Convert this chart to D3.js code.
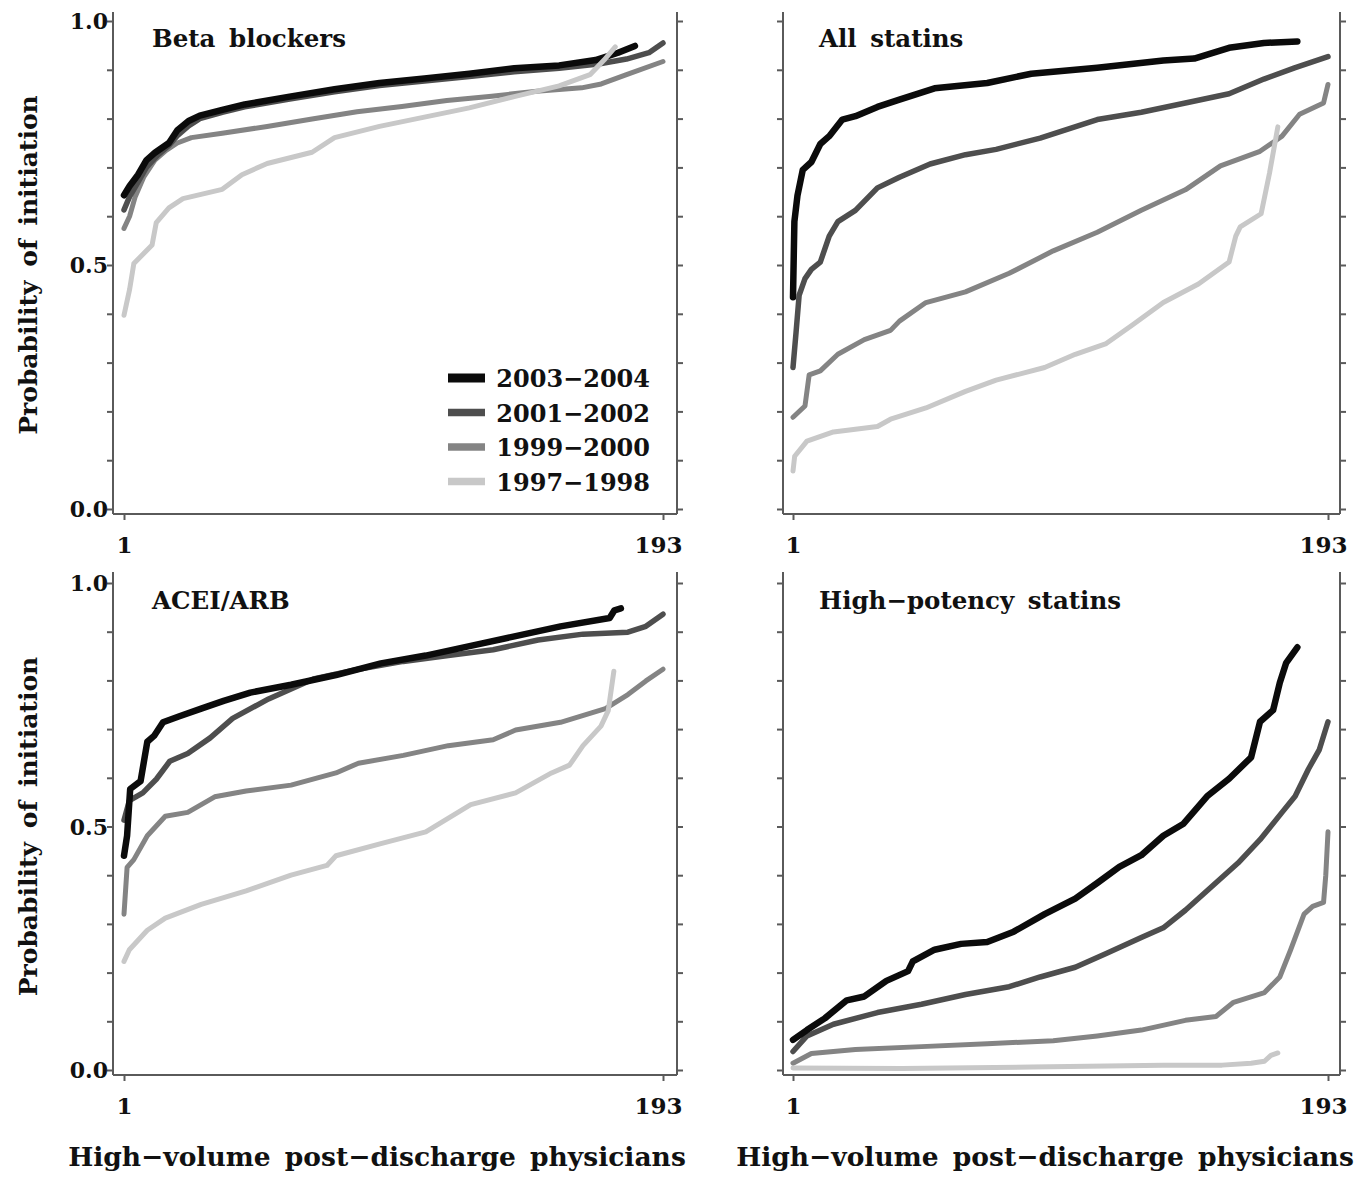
<!DOCTYPE html>
<html>
<head>
<meta charset="utf-8">
<script src="https://cdn.jsdelivr.net/npm/d3@7"></script>
<style>
  html, body { margin: 0; padding: 0; background: #fff; }
  svg text { font-family: "DejaVu Serif", serif; fill: #111; font-weight: bold; }
</style>
</head>
<body>
<svg id="chart" width="1371" height="1177"></svg>
<script>
// ---------- data (rank of physician, probability of initiation) ----------
const panelTitles = ["Beta blockers", "All statins", "ACEI/ARB", "High\u2212potency statins"];
const periods = ["2003\u22122004", "2001\u22122002", "1999\u22122000", "1997\u22121998"];
const yTickLabels = ["0.0", "0.5", "1.0"];
const yTickValues = [0, 0.5, 1];
const xTickLabels = ["1", "193"];
const xTickValues = [1, 193];
const xTitle = "High\u2212volume post\u2212discharge physicians";
const yTitle = "Probability of initiation";

const beta2003 = [[1,0.643],[3,0.662],[6,0.685],[9,0.715],[12,0.73],[17,0.75],[20,0.776],[24,0.795],[28,0.806],[36,0.818],[44,0.829],[60,0.845],[76,0.86],[92,0.873],[108,0.882],[124,0.892],[140,0.903],[156,0.909],[169,0.92],[177,0.935],[183,0.949]];
const beta2001 = [[1,0.613],[3,0.64],[6,0.67],[9,0.7],[13,0.725],[17,0.745],[20,0.765],[24,0.785],[28,0.8],[36,0.813],[44,0.824],[60,0.84],[76,0.855],[92,0.868],[108,0.877],[124,0.886],[140,0.896],[156,0.903],[170,0.912],[180,0.922],[188,0.935],[193,0.955]];
const beta1999 = [[1,0.575],[3,0.6],[5,0.64],[8,0.68],[12,0.715],[16,0.735],[20,0.75],[25,0.761],[36,0.77],[52,0.784],[68,0.799],[84,0.814],[100,0.825],[116,0.837],[132,0.846],[148,0.856],[164,0.863],[171,0.871],[180,0.89],[193,0.917]];
const beta1997 = [[1,0.397],[3,0.45],[4.5,0.503],[11,0.541],[12.5,0.587],[17,0.617],[22,0.636],[36,0.655],[43,0.685],[52,0.708],[68,0.731],[76,0.761],[92,0.784],[108,0.803],[124,0.822],[140,0.845],[156,0.867],[167,0.89],[172,0.92],[176,0.947]];

const stat2003 = [[1,0.434],[1.5,0.589],[2.6,0.642],[4.5,0.695],[7.6,0.711],[10.8,0.748],[14,0.764],[18.7,0.798],[23.4,0.805],[31.3,0.824],[39.2,0.839],[51.8,0.862],[70.7,0.873],[86.5,0.892],[110.2,0.904],[133.9,0.919],[145,0.923],[157.5,0.945],[170,0.955],[182,0.958]];
const stat2001 = [[1,0.29],[2.1,0.362],[3.2,0.438],[5.3,0.472],[7.6,0.491],[10.8,0.506],[14,0.559],[17.1,0.589],[23.4,0.612],[31.3,0.658],[39.2,0.68],[50.2,0.707],[62.9,0.726],[73.9,0.737],[89.7,0.76],[110.2,0.798],[126,0.813],[141.8,0.832],[157.5,0.851],[170,0.881],[181,0.904],[193,0.927]];
const stat1999 = [[1,0.188],[5.3,0.211],[6.8,0.275],[10.8,0.283],[17.1,0.317],[26.6,0.347],[36,0.366],[39.2,0.385],[48.7,0.423],[62.9,0.445],[78.6,0.483],[94.4,0.529],[110.2,0.567],[126,0.612],[141.8,0.654],[154.4,0.703],[168.6,0.733],[176.5,0.764],[182.8,0.809],[191.4,0.832],[193,0.87]];
const stat1997 = [[1,0.078],[1.6,0.108],[6,0.139],[15.5,0.158],[31.3,0.169],[36,0.184],[48.7,0.207],[62.9,0.241],[73.9,0.264],[91.3,0.29],[102.3,0.317],[113.4,0.339],[122.8,0.377],[133.9,0.423],[146.5,0.461],[157.5,0.506],[159.9,0.559],[161.5,0.578],[169,0.605],[172,0.688],[175,0.783]];

const ace2003 = [[1,0.44],[2.1,0.481],[3.2,0.577],[6.9,0.593],[9.3,0.674],[11.7,0.686],[14.9,0.714],[20.5,0.726],[28.5,0.742],[36.5,0.758],[46,0.775],[60.5,0.791],[76.5,0.811],[92.5,0.835],[108.5,0.851],[124.5,0.871],[140.5,0.891],[156.5,0.911],[174,0.928],[175.7,0.944],[178,0.948]];
const ace2001 = [[1,0.513],[2.9,0.553],[7.7,0.569],[12.5,0.597],[17.3,0.634],[23.7,0.65],[31.7,0.682],[39.7,0.722],[52.5,0.762],[68.5,0.803],[84.5,0.823],[100.5,0.839],[116.5,0.851],[132.5,0.863],[148.5,0.883],[164.5,0.895],[180.5,0.899],[186.9,0.911],[193,0.936]];
const ace1999 = [[1,0.32],[2.1,0.416],[4.5,0.432],[9.3,0.481],[15.7,0.521],[23.7,0.529],[33.3,0.561],[44.5,0.573],[60.5,0.585],[76.5,0.61],[84.5,0.63],[100.5,0.646],[116.5,0.666],[132.5,0.678],[140.5,0.698],[156.5,0.714],[172.5,0.742],[180.5,0.771],[186.9,0.799],[193,0.823]];
const ace1997 = [[1,0.223],[2.9,0.247],[9.3,0.287],[15.7,0.312],[28.5,0.34],[44.5,0.368],[60.5,0.4],[73.3,0.42],[76.5,0.44],[92.5,0.465],[108.5,0.489],[124.5,0.545],[140.5,0.569],[153.3,0.61],[159.7,0.626],[164.5,0.666],[170.9,0.706],[173.5,0.738],[175.5,0.819]];

const hp2003 = [[1,0.062],[6,0.082],[12.4,0.106],[20.3,0.143],[26.6,0.151],[34.5,0.183],[42.3,0.203],[44,0.223],[51.8,0.247],[61.3,0.259],[70.7,0.263],[80.2,0.284],[91.3,0.32],[102.3,0.352],[110.2,0.384],[118.1,0.417],[126,0.441],[133.9,0.481],[141,0.505],[149.6,0.562],[157.5,0.598],[165.4,0.642],[168.6,0.715],[173.3,0.739],[175.7,0.795],[178,0.836],[182,0.868]];
const hp2001 = [[1,0.038],[6,0.07],[15.5,0.094],[31.3,0.118],[47.1,0.135],[62.9,0.155],[78.6,0.171],[89.7,0.191],[102.3,0.211],[113.4,0.239],[126,0.272],[133.9,0.292],[141.8,0.328],[149.6,0.368],[160.7,0.425],[168.6,0.473],[176.5,0.529],[181.2,0.562],[186,0.618],[189.9,0.658],[193,0.715]];
const hp1999 = [[1,0.014],[7.6,0.034],[23.4,0.042],[47.1,0.048],[70.7,0.054],[94.4,0.06],[110.2,0.07],[126,0.082],[141.8,0.102],[152.8,0.11],[159.1,0.139],[170.2,0.159],[175.7,0.191],[179.6,0.247],[184.4,0.32],[187.5,0.336],[191.4,0.344],[192.2,0.4],[193,0.489]];
const hp1997 = [[1,0.004],[40,0.003],[86.5,0.006],[133.9,0.01],[155,0.01],[165.4,0.014],[170.2,0.018],[172.5,0.03],[175,0.035]];

// ---------- styling ----------
const periodColors = ["#0b0b0b", "#4e4e4e", "#848484", "#c8c8c8"];
const periodWidths = [6.5, 5.5, 5, 5];
const drawOrder = [2, 1, 0, 3];

const panelSeries = [
  [beta2003, beta2001, beta1999, beta1997],
  [stat2003, stat2001, stat1999, stat1997],
  [ace2003, ace2001, ace1999, ace1997],
  [hp2003, hp2001, hp1999, hp1997]
];

const cols = [
  { axL: 113, axR: 677, x0: 124, x1: 663, titleX: 152, xTitleX: 377 },
  { axL: 783, axR: 1340, x0: 793, x1: 1328, titleX: 819, xTitleX: 1045 }
];
const rows = [
  { y0: 509, y1: 21, top: 12, axB: 514, titleY: 47 },
  { y0: 1070, y1: 583, top: 572, axB: 1075, titleY: 609 }
];

const svg = d3.select("#chart");
const axisColor = "#5a5a5a";

panelSeries.forEach((series, pi) => {
  const c = cols[pi % 2], r = rows[Math.floor(pi / 2)];
  const x = d3.scaleLinear().domain([1, 193]).range([c.x0, c.x1]);
  const y = d3.scaleLinear().domain([0, 1]).range([r.y0, r.y1]);
  const g = svg.append("g");

  g.append("line").attr("x1", c.axL).attr("x2", c.axL).attr("y1", r.top).attr("y2", r.axB)
    .attr("stroke", axisColor).attr("stroke-width", 2);
  g.append("line").attr("x1", c.axR).attr("x2", c.axR).attr("y1", r.top).attr("y2", r.axB)
    .attr("stroke", axisColor).attr("stroke-width", 2);
  g.append("line").attr("x1", c.axL).attr("x2", c.axR).attr("y1", r.axB).attr("y2", r.axB)
    .attr("stroke", axisColor).attr("stroke-width", 2);

  const minor = d3.range(0, 11).map(i => i / 10);
  const left = d3.axisLeft(y).tickValues(minor).tickSize(6).tickSizeOuter(0).tickFormat("");
  const gl = g.append("g").attr("transform", `translate(${c.axL},0)`).call(left);
  const right = d3.axisRight(y).tickValues(minor).tickSize(6).tickSizeOuter(0).tickFormat("");
  const gr = g.append("g").attr("transform", `translate(${c.axR},0)`).call(right);
  const bottom = d3.axisBottom(x).tickValues(xTickValues).tickSize(6).tickSizeOuter(0)
    .tickFormat((d, i) => xTickLabels[i]);
  const gb = g.append("g").attr("transform", `translate(0,${r.axB})`).call(bottom);
  [gl, gr, gb].forEach(a => {
    a.select(".domain").remove();
    a.selectAll(".tick line").attr("stroke", axisColor).attr("stroke-width", 2);
  });
  gb.selectAll(".tick text").attr("dy", 0).attr("y", 39)
    .attr("dx", (d, i) => i === 1 ? -5 : 0)
    .style("font-size", "23px").style("font-weight", "bold")
    .style("font-family", "'DejaVu Serif', serif").attr("fill", "#111");

  if (pi % 2 === 0) {
    g.selectAll("text.ylab").data(yTickValues).enter().append("text")
      .attr("class", "ylab")
      .attr("x", c.axL - 5).attr("y", d => y(d) + 8)
      .attr("text-anchor", "end")
      .style("font-size", "22px")
      .text((d, i) => yTickLabels[i]);
    g.append("text")
      .attr("transform", `translate(37,${(r.y0 + r.y1) / 2}) rotate(-90)`)
      .attr("text-anchor", "middle")
      .style("font-size", "25px").style("word-spacing", "5px")
      .text(yTitle);
  }

  g.append("text").attr("x", c.titleX).attr("y", r.titleY)
    .style("font-size", "24.5px").style("word-spacing", "5px")
    .text(panelTitles[pi]);

  const line = d3.line().x(d => x(d[0])).y(d => y(d[1]));
  drawOrder.forEach(si => {
    g.append("path").datum(series[si])
      .attr("d", line)
      .attr("fill", "none")
      .attr("stroke", periodColors[si])
      .attr("stroke-width", periodWidths[si])
      .attr("stroke-linejoin", "round")
      .attr("stroke-linecap", "round");
  });

  if (Math.floor(pi / 2) === 1) {
    g.append("text").attr("x", c.xTitleX).attr("y", 1166)
      .attr("text-anchor", "middle")
      .style("font-size", "26.5px").style("word-spacing", "5px")
      .text(xTitle);
  }
});

// legend (top-left panel)
const lg = svg.append("g");
periods.forEach((p, i) => {
  const yy = 378 + i * 34.5;
  lg.append("line").attr("x1", 448).attr("x2", 485).attr("y1", yy).attr("y2", yy)
    .attr("stroke", periodColors[i]).attr("stroke-width", i === 0 ? 9 : 7.5);
  lg.append("text").attr("x", 650).attr("y", yy + 9)
    .attr("text-anchor", "end")
    .style("font-size", "24px")
    .text(p);
});
</script>
</body>
</html>
